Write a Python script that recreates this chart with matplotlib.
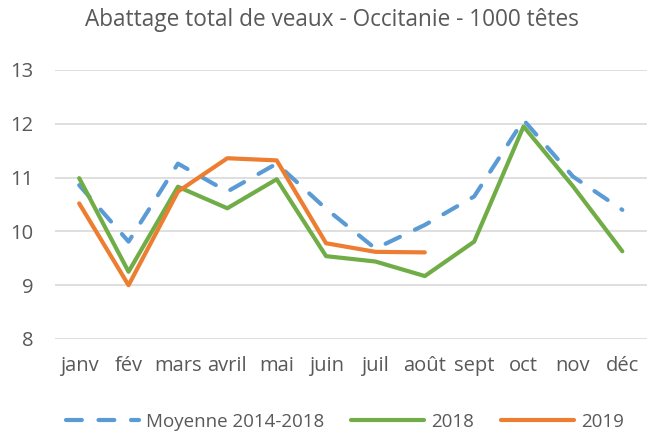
import matplotlib
matplotlib.use("Agg")
import matplotlib.pyplot as plt

months = ["janv", "fév", "mars", "avril", "mai", "juin", "juil", "août", "sept", "oct", "nov", "déc"]
moyenne = [10.86, 9.81, 11.26, 10.74, 11.26, 10.42, 9.68, 10.12, 10.65, 12.07, 11.02, 10.40]
y2018 = [10.99, 9.25, 10.83, 10.43, 10.97, 9.54, 9.44, 9.17, 9.81, 11.95, 10.84, 9.63]
y2019 = [10.52, 9.00, 10.74, 11.36, 11.32, 9.78, 9.62, 9.61]
yticks = [8, 9, 10, 11, 12, 13]

plt.rcParams['font.family'] = ['Open Sans', 'DejaVu Sans']
txt = '#595959'

fig = plt.figure(figsize=(6.47, 4.34), dpi=100)
ax = fig.add_axes([54.5/647, 1-339/434, 1-54.5/647, (339-70)/434])

x = list(range(len(months)))
ax.plot(x, moyenne, color='#5B9BD5', lw=3, dashes=(3.8, 4.0), dash_capstyle='round',
        solid_capstyle='round', label='Moyenne 2014-2018', zorder=3)
ax.plot(x, y2018, color='#70AD47', lw=3, solid_capstyle='round', label='2018', zorder=3)
ax.plot(x[:len(y2019)], y2019, color='#ED7D31', lw=3, solid_capstyle='round', label='2019', zorder=4)

ax.set_xlim(-0.5, 11.5)
ax.set_ylim(8, 13)
ax.set_yticks(yticks)
ax.set_yticklabels([str(v) for v in yticks])
ax.set_xticks(x)
ax.set_xticklabels(months)
ax.grid(axis='y', color='#D9D9D9', lw=1.2)
ax.set_axisbelow(True)
for s in ax.spines.values():
    s.set_visible(False)
ax.tick_params(length=0, labelsize=14.5, colors=txt)
ax.tick_params(axis='x', pad=12)
ax.tick_params(axis='y', pad=15)

fig.text(0.513, 1-20/434, 'Abattage total de veaux - Occitanie - 1000 têtes', ha='center', va='center',
         fontsize=16.3, color=txt)

leg = fig.legend(loc='center', bbox_to_anchor=(345/647, 1-422/434), ncol=3, frameon=False,
                 fontsize=13.5, handlelength=3.9, columnspacing=1.4, handletextpad=0.4)
for t in leg.get_texts():
    t.set_color(txt)

fig.savefig('out.png', dpi=100)
